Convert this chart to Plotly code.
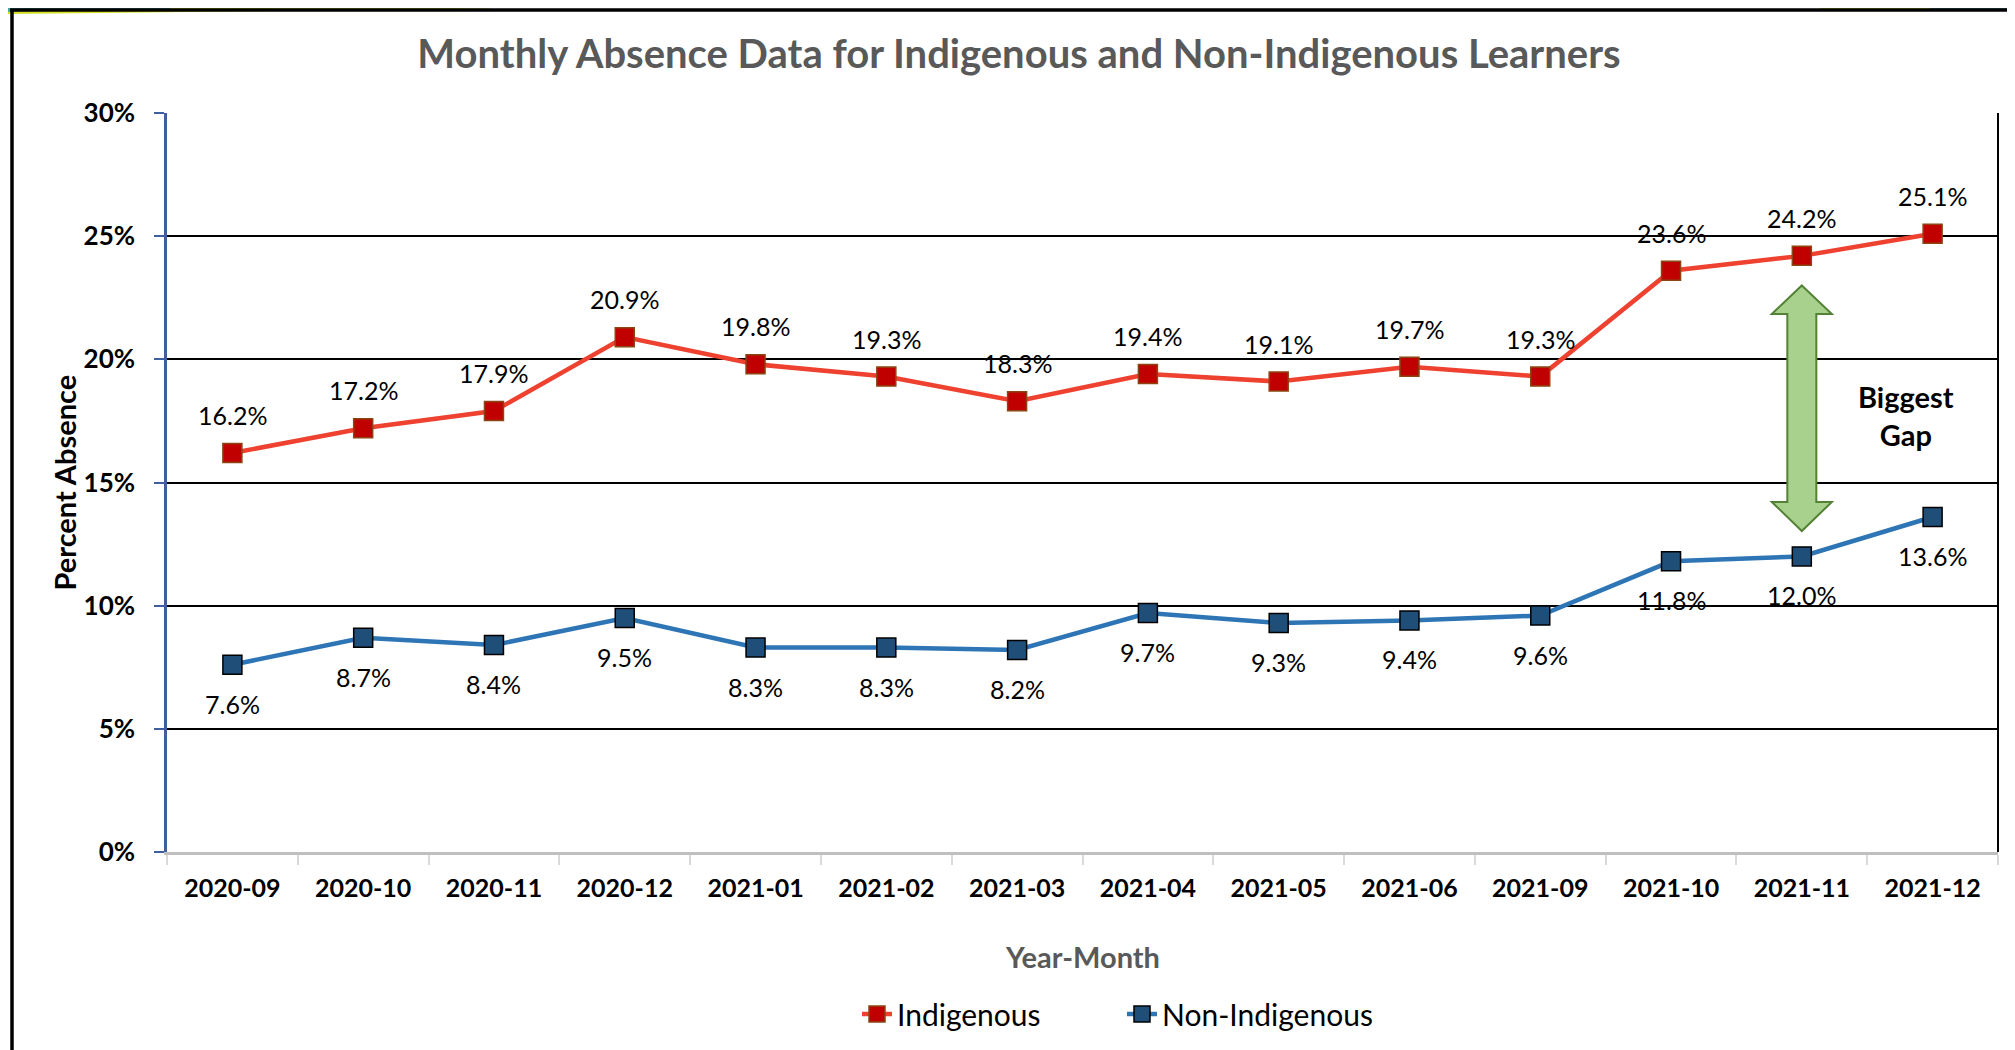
import plotly.graph_objects as go

months = ["2020-09", "2020-10", "2020-11", "2020-12", "2021-01", "2021-02", "2021-03",
          "2021-04", "2021-05", "2021-06", "2021-09", "2021-10", "2021-11", "2021-12"]
indigenous = [16.2, 17.2, 17.9, 20.9, 19.8, 19.3, 18.3, 19.4, 19.1, 19.7, 19.3, 23.6, 24.2, 25.1]
non_indigenous = [7.6, 8.7, 8.4, 9.5, 8.3, 8.3, 8.2, 9.7, 9.3, 9.4, 9.6, 11.8, 12.0, 13.6]
y_ticks = [0, 5, 10, 15, 20, 25, 30]

# gap-arrow annotation (data units)
gap_month = "2021-11"
gap_top, gap_head_top, gap_head_bot, gap_bot = 23.0, 21.84, 14.21, 13.03
gap_label_x, gap_label_y = 12.8, 17.7

OFF = 8  # page body margin
W, H = 2015 - OFF, 1050 - OFF
L, R, T, B = 167 - OFF, 17, 113 - OFF, 198
PW, PH = W - L - R, H - T - B

def px(x):  # reference pixel x -> paper
    return (x - OFF - L) / PW

def py(y):  # reference pixel y -> paper
    return (H - B - (y - OFF)) / PH

FONT = "Lato"
fig = go.Figure()

fig.add_trace(go.Scatter(
    x=months, y=indigenous, name="Indigenous", mode="lines+markers",
    line=dict(color="#EE4130", width=4.5),
    marker=dict(symbol="square", size=19, color="#C00000", line=dict(color="#8B4513", width=1.5)),
))
fig.add_trace(go.Scatter(
    x=months, y=non_indigenous, name="Non-Indigenous", mode="lines+markers",
    line=dict(color="#2E75B6", width=4.5),
    marker=dict(symbol="square", size=19, color="#1F4E79", line=dict(color="#000000", width=1.5)),
))

annotations = []
for m, v in zip(months, indigenous):
    annotations.append(dict(x=m, y=v, text=f"{v:.1f}%", showarrow=False, yshift=38,
                            font=dict(family=FONT, size=25, color="black")))
for m, v in zip(months, non_indigenous):
    annotations.append(dict(x=m, y=v, text=f"{v:.1f}%", showarrow=False, yshift=-39,
                            font=dict(family=FONT, size=25, color="black")))

annotations.append(dict(x=gap_label_x, y=gap_label_y, xref="x", yref="y",
                        xanchor="center", yanchor="middle",
                        text="<b>Biggest<br>Gap</b>", showarrow=False,
                        font=dict(family=FONT, size=29, color="black"), align="center"))
annotations.append(dict(x=px(64), y=0.5, xref="paper", yref="paper", text="<b>Percent Absence</b>",
                        xanchor="center", yanchor="middle",
                        textangle=-90, showarrow=False,
                        font=dict(family=FONT, size=29, color="black")))
annotations.append(dict(x=px(1082), y=py(956), xref="paper", yref="paper", text="<b>Year-Month</b>",
                        xanchor="center", yanchor="middle",
                        showarrow=False, font=dict(family=FONT, size=29, color="#595959")))

shapes = []
ah, sh = 30, 14.5
path = (f"M 0,{gap_top} L {ah},{gap_head_top} L {sh},{gap_head_top} L {sh},{gap_head_bot} "
        f"L {ah},{gap_head_bot} L 0,{gap_bot} L {-ah},{gap_head_bot} L {-sh},{gap_head_bot} "
        f"L {-sh},{gap_head_top} L {-ah},{gap_head_top} Z")
shapes.append(dict(type="path", xref="x", yref="y", xsizemode="pixel", xanchor=gap_month,
                   path=path, fillcolor="#A9D18E", line=dict(color="#548235", width=2)))
shapes.append(dict(type="line", xref="paper", yref="paper", x0=1, x1=1, y0=0, y1=1,
                   line=dict(color="black", width=2)))

def ppath(pts):
    return "M " + " L ".join(f"{px(x)},{py(y)}" for x, y in pts) + " Z"

shapes.append(dict(type="path", xref="paper", yref="paper", layer="below",
                   path=ppath([(0, 0), (490, 0), (490, 8.5), (0, 14)]), fillcolor="#D4E021", line=dict(width=0)))
shapes.append(dict(type="path", xref="paper", yref="paper", layer="below",
                   path=ppath([(0, 0), (170, 0), (170, 9), (0, 12)]), fillcolor="#4BA3A3", line=dict(width=0)))
shapes.append(dict(type="path", xref="paper", yref="paper", layer="below",
                   path=ppath([(1820, 0), (2015, 0), (2015, 9), (1820, 9)]), fillcolor="#D4E021", line=dict(width=0)))
shapes.append(dict(type="path", xref="paper", yref="paper", layer="below",
                   path=ppath([(1930, 0), (2015, 0), (2015, 9), (1930, 9)]), fillcolor="#4BA3A3", line=dict(width=0)))
shapes.append(dict(type="line", xref="paper", yref="paper", x0=px(12), x1=px(12), y0=py(9), y1=py(1050),
                   line=dict(color="black", width=3.5)))
shapes.append(dict(type="line", xref="paper", yref="paper", x0=px(10), x1=px(2015), y0=py(10), y1=py(10),
                   line=dict(color="black", width=3.5)))

fig.update_layout(
    width=W, height=H,
    margin=dict(l=L, r=R, t=T, b=B, autoexpand=False),
    paper_bgcolor="white", plot_bgcolor="white",
    font=dict(family=FONT, color="black"),
    title=dict(text="<b>Monthly Absence Data for Indigenous and Non-Indigenous Learners</b>",
               x=(1019 - OFF) / W, xanchor="center", y=1 - (54 - OFF) / H, yanchor="middle",
               font=dict(family=FONT, size=40, color="#595959")),
    showlegend=True,
    legend=dict(orientation="h", x=px(1122), xanchor="center", y=py(1014), yanchor="middle",
                font=dict(family=FONT, size=30, color="black"), entrywidth=220),
    annotations=annotations,
    shapes=shapes,
)
fig.update_xaxes(
    type="category", categoryarray=months, categoryorder="array", range=[-0.5, len(months) - 0.5],
    showgrid=False, showline=True, linecolor="#BFBFBF", linewidth=3,
    ticks="outside", tickson="boundaries", ticklen=10, tickcolor="#D9D9D9", tickwidth=2,
    tickfont=dict(family=FONT, size=25, color="black", weight="bold"), ticklabelstandoff=12,
    zeroline=False,
)
fig.update_yaxes(
    range=[0, 30], tickvals=y_ticks, ticktext=[f"{t}%" for t in y_ticks],
    showgrid=True, gridcolor="black", gridwidth=1.5,
    showline=True, linecolor="#3F5F9F", linewidth=2.5,
    ticks="outside", ticklen=10, tickcolor="#3F5F9F", tickwidth=2,
    tickfont=dict(family=FONT, size=26, color="black", weight="bold"), ticklabelstandoff=14,
    zeroline=False,
)

fig.write_html("out.html")
